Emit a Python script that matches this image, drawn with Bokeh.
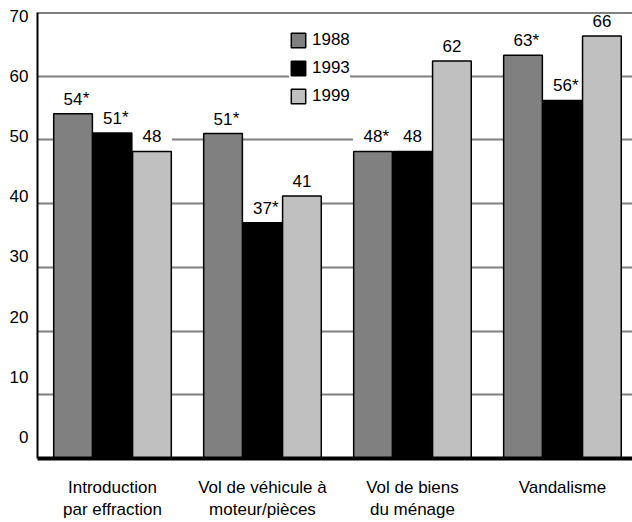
from bokeh.plotting import figure
from bokeh.models import FixedTicker, Span, Range1d, ColumnDataSource
from bokeh.core.properties import value
from bokeh.embed import file_html
from bokeh.resources import INLINE

# ---- data ----
categories = ["Introduction\npar effraction", "Vol de véhicule à\nmoteur/pièces",
              "Vol de biens\ndu ménage", "Vandalisme"]
years = ["1988", "1993", "1999"]
v1988 = [54.1, 51.0, 48.2, 63.3]
v1993 = [51.1, 37.0, 48.2, 56.2]
v1999 = [48.2, 41.2, 62.4, 66.3]
sig1988 = [True, True, True, True]
sig1993 = [True, True, False, True]
sig1999 = [False, False, False, False]
y_tick_labels = [0, 10, 20, 30, 40, 50, 60, 70]
grid_values = [10, 20, 30, 40, 50, 60]

# ---- style ----
FONT = "Liberation Sans"
FS = "17px"
colors = ["#808080", "#000000", "#c0c0c0"]
offsets = [-0.263, 0.0, 0.263]
BAR_W = 0.258
centers = [0.5, 1.5, 2.5, 3.5]
PX_Y = 447 / 70.0
label_gap = 15 / PX_Y
box_h = 28 / PX_Y

p = figure(width=632, height=522, x_range=Range1d(0, 3.967), y_range=Range1d(0, 70),
           output_backend="svg", toolbar_location=None,
           min_border_left=37, min_border_right=0, min_border_top=12, min_border_bottom=0)
p.background_fill_color = "white"
p.border_fill_color = "white"
p.outline_line_color = None

# grid
p.xgrid.visible = False
p.ygrid.ticker = FixedTicker(ticks=grid_values)
p.ygrid.grid_line_color = "#808080"
p.ygrid.grid_line_width = 2

# y axis (labels placed on their own evenly spaced positions, as in the source)
y_tick_pos = [round(3.44 + 0.9423 * k, 3) for k in y_tick_labels]
p.yaxis.ticker = FixedTicker(ticks=y_tick_pos)
p.yaxis.major_label_overrides = {pos: str(k) for pos, k in zip(y_tick_pos, y_tick_labels)}
p.yaxis.axis_line_width = 2
p.yaxis.axis_line_color = "black"
p.yaxis.major_tick_line_color = None
p.yaxis.minor_tick_line_color = None
p.yaxis.major_tick_out = 0
p.yaxis.major_tick_in = 0
p.yaxis.major_label_standoff = 9
p.yaxis.major_label_text_font = FONT
p.yaxis.major_label_text_font_size = FS
p.yaxis.major_label_text_color = "black"

# x axis
p.xaxis.ticker = FixedTicker(ticks=centers)
p.xaxis.major_label_overrides = {c: lab for c, lab in zip(centers, categories)}
p.xaxis.axis_line_width = 4
p.xaxis.axis_line_color = "black"
p.xaxis.major_tick_line_color = None
p.xaxis.minor_tick_line_color = None
p.xaxis.major_tick_out = 0
p.xaxis.major_tick_in = 0
p.xaxis.major_label_standoff = 19
p.xaxis.major_label_text_font = FONT
p.xaxis.major_label_text_font_size = FS
p.xaxis.major_label_text_color = "black"
p.xaxis.major_label_text_line_height = 1.2

series = [v1988, v1993, v1999]
sigs = [sig1988, sig1993, sig1999]

# white boxes behind value labels (interrupt gridlines)
for off, vals in zip(offsets, series):
    xs = [c + off for c in centers]
    p.vbar(x=xs, bottom=vals, top=[v + box_h for v in vals], width=BAR_W + 0.01,
           fill_color="white", line_color=None)

# bars
for off, vals, col, yr in zip(offsets, series, colors, years):
    xs = [c + off for c in centers]
    src = ColumnDataSource(dict(x=xs, top=vals))
    p.vbar(x="x", top="top", bottom=0, width=BAR_W, source=src,
           fill_color=col, line_color="black", line_width=1.5, legend_label=yr)

# value labels
for off, vals, sg in zip(offsets, series, sigs):
    xs = [c + off for c in centers]
    ys = [v + label_gap for v in vals]
    p.text(x=xs, y=ys, text=[str(int(round(v))) for v in vals],
           text_align="center", text_baseline="middle",
           text_font=value(FONT), text_font_size=FS, text_color="black")
    ax = [x + 0.064 for x, s in zip(xs, sg) if s]
    ay = [y for y, s in zip(ys, sg) if s]
    if ax:
        p.text(x=ax, y=ay, text=["*"] * len(ax),
               text_align="left", text_baseline="middle",
               text_font=value(FONT), text_font_size=FS, text_color="black")

# top frame line
p.add_layout(Span(location=70, dimension="width", line_color="black", line_width=2))

# legend
lg = p.legend[0]
lg.location = (252, 352)
lg.margin = 0
lg.padding = 17
lg.spacing = 8
lg.glyph_width = 18
lg.glyph_height = 18
lg.label_height = 18
lg.label_standoff = 5
lg.label_text_font = FONT
lg.label_text_font_size = FS
lg.label_text_color = "black"
lg.background_fill_color = "white"
lg.background_fill_alpha = 1.0
lg.border_line_color = None

open("out.html", "w").write(file_html(p, INLINE))
